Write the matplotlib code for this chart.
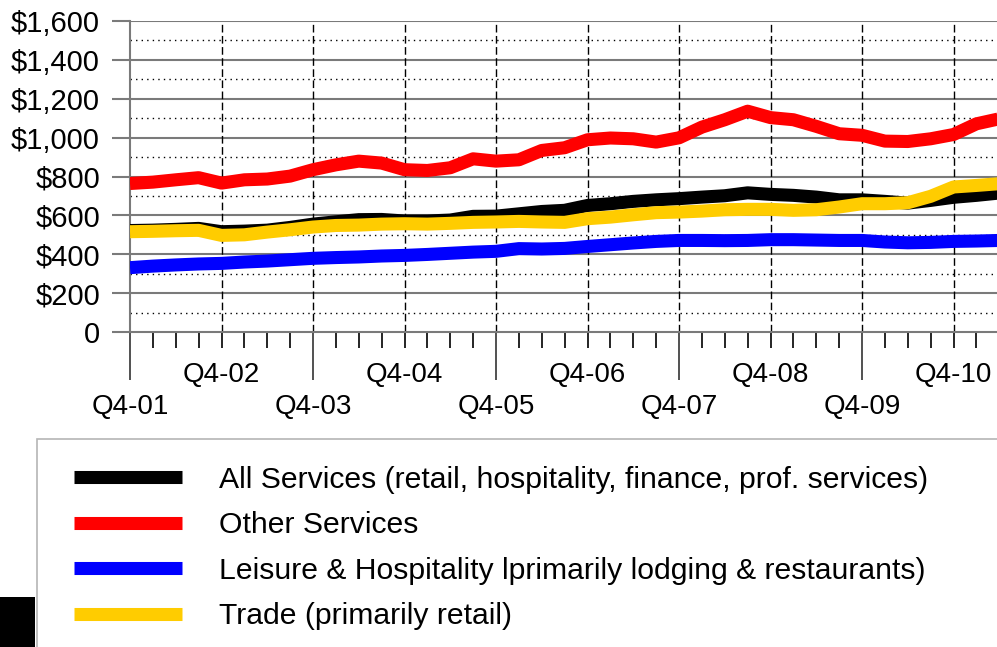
import matplotlib
matplotlib.use("Agg")
import matplotlib.pyplot as plt
from matplotlib.patches import Rectangle
from matplotlib.ticker import FixedLocator, FuncFormatter

plt.rcParams['font.family'] = ['Liberation Sans', 'DejaVu Sans']

# ---------------- data ----------------
years = ["Q4-01", "Q4-02", "Q4-03", "Q4-04", "Q4-05",
         "Q4-06", "Q4-07", "Q4-08", "Q4-09", "Q4-10"]
n_quarters = 39  # Q4-01 .. Q2-11

all_services = [522, 524, 528, 533, 516, 519, 524, 538, 555, 567,
                578, 579, 571, 571, 576, 595, 596, 608, 620, 626,
                651, 660, 672, 680, 686, 694, 701, 716, 708, 703,
                694, 680, 680, 672, 663, 677, 693, 703, 715]
other_services = [764, 771, 783, 794, 766, 783, 787, 802, 835, 860,
                  879, 869, 835, 831, 845, 891, 879, 886, 934, 948,
                  989, 998, 994, 977, 999, 1054, 1092, 1136, 1103, 1092,
                  1058, 1020, 1012, 982, 980, 994, 1016, 1071, 1097]
leisure = [331, 339, 345, 350, 353, 360, 365, 372, 379, 383,
           386, 391, 394, 399, 405, 411, 415, 429, 427, 430,
           440, 449, 458, 466, 471, 471, 470, 471, 475, 475,
           473, 471, 471, 463, 459, 461, 466, 468, 471]
trade = [516, 518, 521, 523, 497, 500, 514, 526, 540, 548,
         550, 555, 557, 555, 559, 564, 566, 569, 566, 564,
         583, 591, 603, 614, 617, 622, 629, 631, 631, 626,
         629, 643, 660, 660, 665, 698, 746, 754, 763]

series_labels = ["All Services (retail, hospitality, finance, prof. services)",
                 "Other Services",
                 "Leisure & Hospitality lprimarily lodging & restaurants)",
                 "Trade (primarily retail)"]
series_colors = ["#000000", "#ff0000", "#0000ff", "#ffcc00"]
y_ticks = [0, 200, 400, 600, 800, 1000, 1200, 1400, 1600]
y_tick_labels = ["0", "$200", "$400", "$600", "$800", "$1,000", "$1,200", "$1,400", "$1,600"]

# ---------------- figure ----------------
W, H = 997, 647
fig = plt.figure(figsize=(W / 100, H / 100), dpi=100)

def fx(px):
    return px / W

def fy(py):
    return 1 - py / H

ax = fig.add_axes([fx(130), fy(332), fx(997) - fx(130), fy(21) - fy(332)])
x = list(range(n_quarters))
ax.set_xlim(0, 37.9)
ax.set_ylim(0, 1600)

# gridlines
GRAY = "#7a7a7a"
for v in y_ticks[1:]:
    ax.axhline(v, color=GRAY, lw=1.5, zorder=1)
for v in y_ticks[:-1]:
    ax.axhline(v + 100, color="black", lw=1.0, ls=(0, (1, 3)), zorder=1)
for i in range(1, len(years)):
    ax.axvline(4 * i, color="black", lw=1.0, ls=(0, (5.5, 2.5)), zorder=1)

lw = 9.4
series = [all_services, other_services, leisure, trade]
handles = []
for vals, col, lab in zip(series, series_colors, series_labels):
    h, = ax.plot(x, vals, color=col, lw=lw, solid_joinstyle="round",
                 solid_capstyle="butt", label=lab, zorder=3)
    handles.append(h)

# spines
for s in ["top", "right"]:
    ax.spines[s].set_visible(False)
ax.spines["left"].set_color(GRAY)
ax.spines["left"].set_linewidth(1.5)
ax.spines["bottom"].set_color(GRAY)
ax.spines["bottom"].set_linewidth(1.5)
ax.spines["left"].set_zorder(2)

# y ticks
ax.set_yticks(y_ticks)
ax.set_yticklabels(y_tick_labels)
ax.tick_params(axis="y", length=13, width=1.5, color=GRAY, pad=8.6, labelsize=21)

# x ticks: odd years long ticks with lower labels, quarters short
major_pos = [4 * i for i in range(0, len(years), 2)]
minor_pos = [q for q in range(n_quarters) if q not in major_pos]
ax.xaxis.set_major_locator(FixedLocator(major_pos))
ax.xaxis.set_minor_locator(FixedLocator(minor_pos))
ax.xaxis.set_major_formatter(FuncFormatter(lambda v, p: years[int(round(v)) // 4]))
ax.xaxis.set_minor_formatter(FuncFormatter(
    lambda v, p: years[int(round(v)) // 4] if int(round(v)) % 8 == 4 else ""))
ax.tick_params(axis="x", which="major", length=34.6, width=1.2, color="#333333",
               pad=10, labelsize=20)
ax.tick_params(axis="x", which="minor", length=11.5, width=1.2, color="black",
               pad=10, labelsize=20)

# legend box
fig.patches.append(Rectangle((fx(37), fy(700)), 1.2, fy(439) - fy(700),
                             transform=fig.transFigure, fill=False,
                             edgecolor="#b5b5b5", lw=1.2))
fig.legend(handles, series_labels, loc="upper left",
           bbox_to_anchor=(fx(74), fy(466)), frameon=False, fontsize=21.7,
           handlelength=3.59, handletextpad=1.22, labelspacing=0.58,
           borderpad=0, borderaxespad=0)

# corner logo fragment
fig.patches.append(Rectangle((0, 0), fx(35), fy(597), transform=fig.transFigure,
                             facecolor="black", edgecolor="none"))

fig.savefig("out.png", dpi=100)
